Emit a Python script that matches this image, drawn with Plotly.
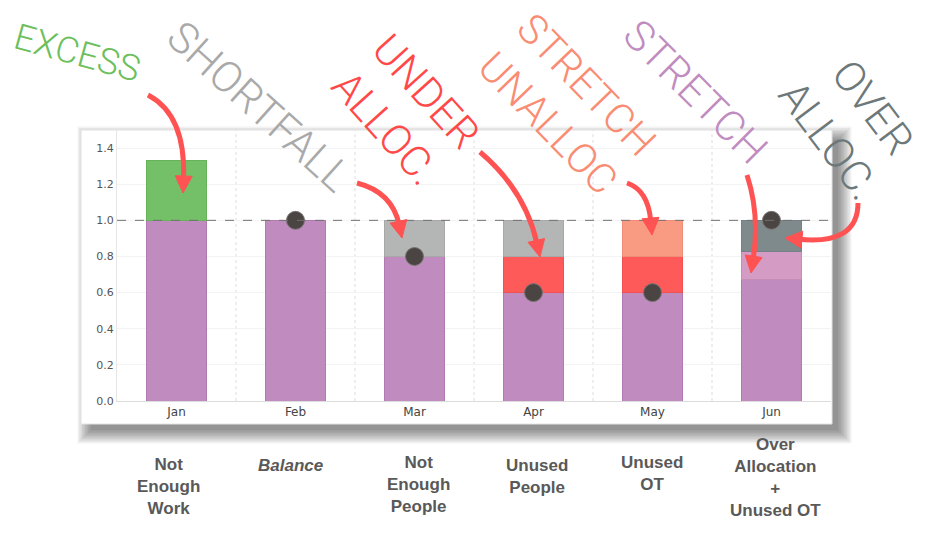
import math
import plotly.graph_objects as go

# ---------------- data ----------------
months = ["Jan", "Feb", "Mar", "Apr", "May", "Jun"]
allocated = [1.0, 1.0, 0.8, 0.6, 0.6, 0.67]
stretch = [None, None, None, None, None, 0.16]
under_alloc = [None, None, None, 0.2, 0.2, None]
over_alloc = [None, None, None, None, None, 0.17]
stretch_unalloc = [None, None, None, None, 0.2, None]
shortfall = [None, None, 0.2, 0.2, None, None]
excess = [0.33, None, None, None, None, None]
capacity_dots = [None, 1.0, 0.8, 0.6, 0.6, 1.0]
capacity_line = 1.0
y_ticks = [0.0, 0.2, 0.4, 0.6, 0.8, 1.0, 1.2, 1.4]
scenario_labels = [
    "<b>Not<br>Enough<br>Work</b>",
    "<b><i>Balance</i></b>",
    "<b>Not<br>Enough<br>People</b>",
    "<b>Unused<br>People</b>",
    "<b>Unused<br>OT</b>",
    "<b>Over<br>Allocation<br>+<br>Unused OT</b>",
]

# ---------------- layout geometry (pixels) ----------------
W, H = 933, 540
PL, PR, PT, PB = 117, 831, 130, 401   # plot area


def X(px):
    return (px - PL) / (PR - PL)


def Y(py):
    return (PB - py) / (PB - PT)


fig = go.Figure()
xs = list(range(len(months)))

series = [
    (allocated, "#c08cc0", "#b27ab2"),
    (stretch, "#d49cc4", "#c88cb8"),
    (under_alloc, "#ff5a5a", "#f05050"),
    (over_alloc, "#7f8a8c", "#76808a"),
    (stretch_unalloc, "#f99a82", "#f08c78"),
    (shortfall, "#b4b5b5", "#a8a8a8"),
    (excess, "#74c068", "#66b35a"),
]
for vals, col, lcol in series:
    fig.add_trace(go.Bar(x=xs, y=vals, width=0.5, marker=dict(color=col, line=dict(color=lcol, width=1)),
                         hoverinfo="skip", showlegend=False))

fig.add_trace(go.Scatter(x=xs, y=capacity_dots, mode="markers",
                         marker=dict(size=18, color="#4a4443", line=dict(color="#7a7474", width=1)),
                         showlegend=False, hoverinfo="skip"))

shapes = []
# drop shadow + panel
for i in range(10):
    e = 1.5 * i
    shapes.append(dict(type="rect", xref="paper", yref="paper", layer="below",
                       x0=X(81 + 6 - e + 4), x1=X(832 + 6 + e), y0=Y(130 + 6 - e + 4), y1=Y(424 + 6 + e),
                       fillcolor="rgba(0,0,0,0.05)", line=dict(width=0)))
shapes.append(dict(type="rect", xref="paper", yref="paper", layer="below",
                   x0=X(81), x1=X(832), y0=Y(130), y1=Y(424),
                   fillcolor="white", line=dict(color="#e2e2e2", width=1)))
# vertical dotted separators between months
for i in range(len(months) - 1):
    shapes.append(dict(type="line", xref="x", yref="paper", layer="below",
                       x0=i + 0.5, x1=i + 0.5, y0=0, y1=1,
                       line=dict(color="#dddddd", width=1, dash="dot")))
# capacity reference line
shapes.append(dict(type="line", xref="paper", yref="y", layer="above",
                   x0=0, x1=1, y0=capacity_line, y1=capacity_line,
                   line=dict(color="#707070", width=1, dash="dash")))

# curved arrows (start, control, tip) in pixels
arrows = [
    ((148, 95), (186, 115), (183, 193)),
    ((357, 183), (392, 192), (402, 238)),
    ((480, 152), (525, 190), (540, 257)),
    ((627, 183), (648, 190), (652, 235)),
    ((747, 175), (760, 215), (751, 273)),
    ((858, 203), (858, 245), (785, 238)),
]
ACOL = "#ff5252"
for (s, c, t) in arrows:
    dx, dy = t[0] - c[0], t[1] - c[1]
    n = (dx * dx + dy * dy) ** 0.5
    ux, uy = dx / n, dy / n
    hl, hw = 17, 8.5
    bx, by = t[0] - ux * hl, t[1] - uy * hl
    ex, ey = t[0] - ux * (hl - 3), t[1] - uy * (hl - 3)
    path = "M {},{} Q {},{} {},{}".format(X(s[0]), Y(s[1]), X(c[0]), Y(c[1]), X(ex), Y(ey))
    shapes.append(dict(type="path", xref="paper", yref="paper", layer="above", path=path,
                       line=dict(color=ACOL, width=5)))
    px_, py_ = -uy, ux
    head = "M {},{} L {},{} L {},{} Z".format(
        X(t[0]), Y(t[1]),
        X(bx + px_ * hw), Y(by + py_ * hw),
        X(bx - px_ * hw), Y(by - py_ * hw))
    shapes.append(dict(type="path", xref="paper", yref="paper", layer="above", path=head,
                       fillcolor=ACOL, line=dict(color=ACOL, width=1)))

annotations = []
# handwritten-style callouts: (lines, block centre x, y, angle, colour, size, line spacing)
hand = [
    (["EXCESS"], 77, 53, 15.5, "#6cbf5c", 36, 0),
    (["SHORTFALL"], 259, 106, 42, "#a9a9a9", 43, 0),
    (["UNDER", "ALLOC."], 406, 110, 48, "#ff4848", 42, 54),
    (["STRETCH", "UNALLOC"], 567, 104, 46, "#f98c72", 41, 54),
    (["STRETCH"], 695, 92, 45, "#c08cc0", 42, 0),
    (["OVER", "ALLOC."], 851, 124, 53, "#6c7879", 42, 56),
]
for lines, cx, cy, ang, col, fs, sp in hand:
    a = math.radians(ang)
    upx, upy = math.sin(a), -math.cos(a)
    nl = len(lines)
    for k, txt in enumerate(lines):
        off = ((nl - 1) / 2 - k) * sp
        lx, ly = cx + upx * off, cy + upy * off
        annotations.append(dict(text=txt, xref="paper", yref="paper", x=X(lx), y=Y(ly),
                                xanchor="center", yanchor="middle", showarrow=False, textangle=ang,
                                font=dict(family="Roboto", size=fs, color=col, weight=300)))

label_pos = [(168, 486), (290, 465), (418, 484), (537, 476), (652, 473), (775, 477)]
for txt, (cx, cy) in zip(scenario_labels, label_pos):
    annotations.append(dict(text=txt, xref="paper", yref="paper", x=X(cx), y=Y(cy),
                            xanchor="center", yanchor="middle", showarrow=False,
                            font=dict(family="Liberation Sans", size=17, color="#595959")))

fig.update_layout(
    width=W, height=H, barmode="stack", bargap=0.5,
    margin=dict(l=PL, r=W - PR, t=PT, b=H - PB, pad=0),
    paper_bgcolor="white", plot_bgcolor="rgba(0,0,0,0)",
    shapes=shapes, annotations=annotations,
    xaxis=dict(range=[-0.5, 5.5], tickvals=xs, ticktext=months, showgrid=False, zeroline=False,
               showline=True, linecolor="#dcdcdc", linewidth=1, ticks="",
               tickfont=dict(family="DejaVu Sans", size=12, color="#444444"), fixedrange=True),
    yaxis=dict(range=[0, 1.5], tickvals=y_ticks, tickformat=".1f", showgrid=True, gridcolor="#f3f3f3",
               zeroline=False, showline=True, linecolor="#e6e6e6", ticks="",
               tickfont=dict(family="DejaVu Sans", size=11, color="#555555"), fixedrange=True),
)

fig.write_html("out.html")
